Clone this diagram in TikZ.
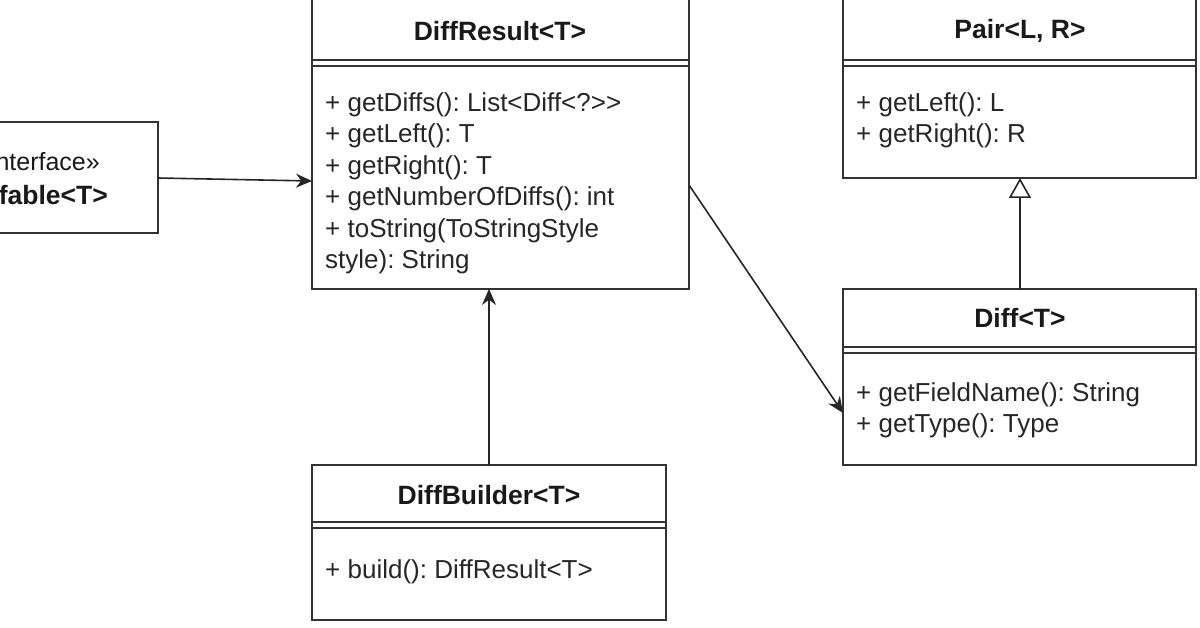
\documentclass[tikz,border=0pt]{standalone}
\usepackage{fontspec}
\setmainfont[Ligatures=NoCommon]{Liberation Sans}
\usetikzlibrary{arrows.meta}
\begin{document}
\frenchspacing
\begin{tikzpicture}[x=1pt,y=-1pt,
  boxline/.style={draw=black!80,line width=1.6pt},
  txt/.style={font=\fontsize{26}{31.5}\selectfont,align=left,inner sep=0pt,anchor=north west,text=black!85},
  ttl/.style={font=\fontsize{26.5}{30}\selectfont\bfseries,inner sep=0pt,text=black!90},
  conn/.style={draw=black!85,line width=1.6pt}]
\useasboundingbox (0,0) rectangle (1200,628);
\clip (0,0) rectangle (1200,628);
% interface box
\draw[boxline] (-160,122) rectangle (158,233);
\coordinate (ifr) at (158,178);
\node[ttl,anchor=east,font=\fontsize{25}{30}\selectfont] (ist) at (100,162) {«interface»};
\node[ttl,anchor=east] (ifn) at (108,195) {Diffable<T>};
% DiffResult
\draw[boxline] (312,-20) rectangle (689,289);
\draw[boxline] (312,60) -- (689,60) (312,66) -- (689,66);
\node[ttl] (drt) at (500,31) {DiffResult<T>};
\node[txt] (drm) at (325,92) {+ getDiffs(): List<Diff<?>{}>\\+ getLeft(): T\\+ getRight(): T\\+ getNumberOfDiffs(): int\\+ toString(ToStringStyle\\style): String};
\coordinate (drl) at (312,181);
\coordinate (drb) at (489,289);
\coordinate (drr) at (689,185);
% Pair
\draw[boxline] (843,-20) rectangle (1196,178);
\draw[boxline] (843,60) -- (1196,60) (843,66) -- (1196,66);
\node[ttl] (pt) at (1020,31) {Pair<L, R>};
\node[txt] (pm) at (856,92) {+ getLeft(): L\\+ getRight(): R};
\coordinate (pb) at (1020,178);
% Diff
\draw[boxline] (843,289) rectangle (1196,465);
\draw[boxline] (843,347) -- (1196,347) (843,353) -- (1196,353);
\node[ttl] (dt) at (1020,318) {Diff<T>};
\node[txt] (dm) at (856,382) {+ getFieldName(): String\\+ getType(): Type};
\coordinate (dtop) at (1020,289);
\coordinate (dl) at (843,413);
% DiffBuilder
\draw[boxline] (312,465) rectangle (666,620);
\draw[boxline] (312,522) -- (666,522) (312,528) -- (666,528);
\node[ttl] (dbt) at (489,495) {DiffBuilder<T>};
\node[txt] (dbm) at (325,559) {+ build(): DiffResult<T>};
\coordinate (dbtop) at (489,465);
% connectors
\draw[conn,-{Stealth[length=16pt,width=14pt]}] (ifr) -- (drl);
\draw[conn,-{Stealth[length=16pt,width=14pt]}] (dbtop) -- (drb);
\draw[conn,-{Stealth[length=16pt,width=14pt]}] (drr) -- (dl);
\draw[conn,-{Triangle[open,length=20pt,width=22pt,fill=white]}] (dtop) -- (pb);
\end{tikzpicture}
\end{document}
